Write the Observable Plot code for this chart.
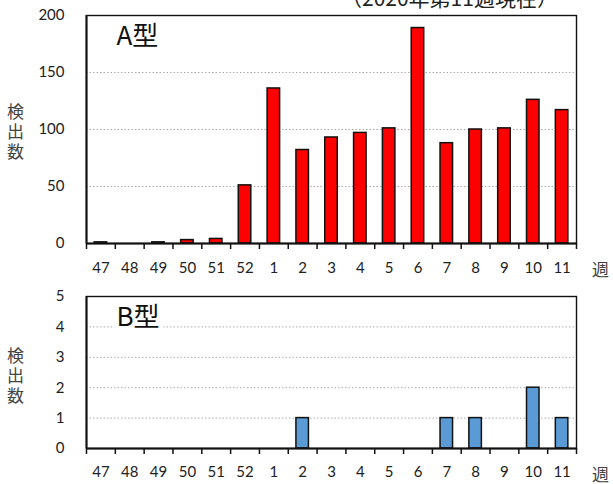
<!DOCTYPE html>
<html>
<head>
<meta charset="utf-8">
<script src="https://cdn.jsdelivr.net/npm/d3@7"></script>
<script src="https://cdn.jsdelivr.net/npm/@observablehq/plot@0.6"></script>
<style>
  body { margin: 0; background: #fff; }
  #wrap { position: relative; width: 613px; height: 484px; overflow: hidden; font-family: Lato, "Noto Sans CJK JP", sans-serif; color: #222; }
  .abs { position: absolute; white-space: nowrap; z-index: 2; }
  .ylab { font-family: "Noto Sans CJK JP", sans-serif; font-size: 17px; line-height: 30px; writing-mode: vertical-rl; text-orientation: upright; letter-spacing: 3px; color: #444; }
  .chart { position: absolute; left: 0; z-index: 1; }
</style>
</head>
<body>
<div id="wrap">
  <div class="chart" id="chartA" style="top:0px;"></div>
  <div class="chart" id="chartB" style="top:281px;"></div>
  <div class="abs" id="title" style="left:341px; top:-18px; font-size:21px; font-family:'Noto Sans CJK JP',sans-serif;">（2020年第11週現在）</div>
  <div class="abs ylab" style="left:0px; top:103px;">検出数</div>
  <div class="abs ylab" style="left:0px; top:347px;">検出数</div>
  <div class="abs" style="left:592px; top:256px; font-size:17px; font-family:'Noto Sans CJK JP',sans-serif; color:#444;">週</div>
  <div class="abs" style="left:592px; top:461px; font-size:17px; font-family:'Noto Sans CJK JP',sans-serif; color:#444;">週</div>
</div>
<script>
const weeks = ["47","48","49","50","51","52","1","2","3","4","5","6","7","8","9","10","11"];
const typeA = [1, 0, 1, 3, 4, 51, 136, 82, 93, 97, 101, 189, 88, 100, 101, 126, 117];
const typeB = [0, 0, 0, 0, 0, 0, 0, 1, 0, 0, 0, 0, 1, 1, 0, 2, 1];
const yTicksA = [0, 50, 100, 150, 200];
const yTicksB = [0, 1, 2, 3, 4, 5];

function panel(values, opts) {
  const data = values.map((v, i) => ({i, v, w: weeks[i]}));
  const n = weeks.length;
  const half = 0.217;
  return Plot.plot({
    width: 613,
    height: opts.height,
    marginTop: 15,
    marginBottom: opts.marginBottom,
    marginLeft: 86,
    marginRight: 37,
    style: {fontFamily: "Lato, 'Noto Sans CJK JP', sans-serif", color: "#222", background: "white", overflow: "visible"},
    x: {type: "linear", domain: [0, n], axis: null, label: null},
    y: {domain: opts.domain, axis: null, label: null},
    marks: [
      Plot.gridY(opts.grid, {stroke: "#aaa", strokeOpacity: 1, strokeDasharray: "1.5,2", strokeWidth: 1}),
      Plot.text([opts.label], {frameAnchor: "top-left", dx: 30, dy: opts.labelDy, fontSize: 26, fill: "#111",
        fontFamily: "'Noto Sans CJK JP', sans-serif", stroke: "white", strokeWidth: 10, paintOrder: "stroke", textAnchor: "start", lineAnchor: "top"}),
      Plot.rectY(data.filter(d => d.v > 0), {x1: d => d.i + 0.5 - half, x2: d => d.i + 0.5 + half, y1: 0, y2: "v",
        fill: opts.color, stroke: "#111", strokeWidth: 1.5}),
      Plot.frame({stroke: "#111", strokeWidth: 1.4}),
      Plot.ruleY([0], {stroke: "#111", strokeWidth: 2}),
      Plot.ruleX([0], {stroke: "#111", strokeWidth: 2}),
      Plot.axisY({ticks: opts.yTicks, tickSize: 0, tickPadding: 22, fontSize: 15, label: null, tickFormat: d => String(d)}),
      Plot.axisX({ticks: d3.range(0, n + 1), tickSize: 6, label: null, tickFormat: () => "", stroke: "#111", strokeWidth: 1.5}),
      Plot.axisX({ticks: d3.range(n).map(i => i + 0.5), tickSize: 0, label: null, tickPadding: opts.labelPad, fontSize: 15,
        tickFormat: d => weeks[Math.floor(d)]})
    ]
  });
}

document.getElementById("chartA").appendChild(panel(typeA, {
  height: 285, marginBottom: 42, domain: [0, 200], grid: [50, 100, 150], yTicks: yTicksA,
  color: "#ff0000", label: "A型", labelDy: 11, labelPad: 19
}));
document.getElementById("chartB").appendChild(panel(typeB, {
  height: 203, marginBottom: 36, domain: [0, 5], grid: [1, 2, 3, 4], yTicks: yTicksB,
  color: "#5b9bd5", label: "B型", labelDy: 11, labelPad: 18
}));
</script>
</body>
</html>
